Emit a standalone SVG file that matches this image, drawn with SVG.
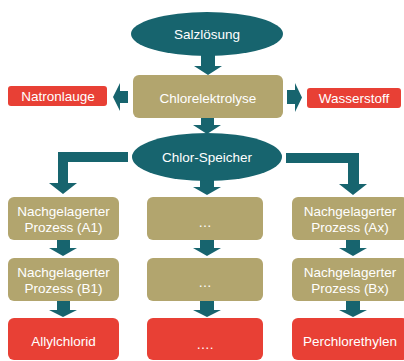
<svg xmlns="http://www.w3.org/2000/svg" width="404" height="361" viewBox="0 0 404 361">
<style>
.teal{fill:#17646E}
.tan{fill:#B2A56E}
.red{fill:#E84035}
.arrow{fill:#17646E}
text{font-family:"Liberation Sans",Arial,sans-serif;font-size:13.5px;fill:#FFFFFF;text-anchor:middle}
</style>
<rect width="404" height="361" fill="#FFFFFF"/>
<g id="connectors">
<polygon class="arrow" points="201,55 215,55 215,66 222,66 208,75 194,66 201,66"/>
<polygon class="arrow" points="201,117 214,117 214,125 221,125 207,134 193,125 201,125"/>
<polygon class="arrow" points="128,91 120,91 120,83 113,97 120,111 120,103 128,103"/>
<polygon class="arrow" points="287,90 295,90 295,83 302,97.5 295,112 295,104 287,104"/>
<polygon class="arrow" points="128,152 58,152 58,183 49,183 63,194 77,183 68,183 68,162 128,162"/>
<polygon class="arrow" points="286,153 359,153 359,184 367,184 353,195 339,184 348,184 348,163 286,163"/>
<polygon class="arrow" points="200,179 214,179 214,187 221,187 207,195 193,187 200,187"/>
<polygon class="arrow" points="57,240 70,240 70,248 77,248 63,256 49,248 57,248"/>
<polygon class="arrow" points="57,301 70,301 70,310 77,310 63,317 49,310 57,310"/>
<polygon class="arrow" points="200,240 214,240 214,248 221,248 207,256 193,248 200,248"/>
<polygon class="arrow" points="200,301 214,301 214,310 221,310 207,317 193,310 200,310"/>
<polygon class="arrow" points="346,240 360,240 360,248 367,248 353,256 339,248 346,248"/>
<polygon class="arrow" points="346,301 360,301 360,310 367,310 353,317 339,310 346,310"/>
</g>
<g id="salzloesung">
<ellipse class="teal" cx="207" cy="34" rx="76" ry="22"/>
<text x="207" y="39">Salzlösung</text>
</g>
<g id="chlorelektrolyse">
<rect class="tan" x="133" y="75" width="150" height="43" rx="6"/>
<text x="208" y="103">Chlorelektrolyse</text>
</g>
<g id="natronlauge">
<rect class="red" x="8" y="86" width="99" height="20" rx="3"/>
<text x="58" y="101">Natronlauge</text>
</g>
<g id="wasserstoff">
<rect class="red" x="307" y="88" width="94" height="20" rx="3"/>
<text x="354" y="103">Wasserstoff</text>
</g>
<g id="chlor-speicher">
<ellipse class="teal" cx="207" cy="157" rx="75" ry="24"/>
<text x="207" y="162">Chlor-Speicher</text>
</g>
<g id="a1">
<rect class="tan" x="8" y="197" width="111" height="43" rx="6"/>
<text x="63.5" y="216">Nachgelagerter</text>
<text x="63.5" y="232">Prozess (A1)</text>
</g>
<g id="m1">
<rect class="tan" x="147" y="197" width="116" height="43" rx="6"/>
<text x="205" y="227">…</text>
</g>
<g id="ax">
<rect class="tan" x="292" y="197" width="116" height="43" rx="6"/>
<text x="350" y="216">Nachgelagerter</text>
<text x="350" y="232">Prozess (Ax)</text>
</g>
<g id="b1">
<rect class="tan" x="8" y="258" width="111" height="43" rx="6"/>
<text x="63.5" y="277">Nachgelagerter</text>
<text x="63.5" y="293">Prozess (B1)</text>
</g>
<g id="m2">
<rect class="tan" x="147" y="258" width="116" height="43" rx="6"/>
<text x="205" y="287">…</text>
</g>
<g id="bx">
<rect class="tan" x="292" y="258" width="116" height="43" rx="6"/>
<text x="350" y="277">Nachgelagerter</text>
<text x="350" y="293">Prozess (Bx)</text>
</g>
<g id="allylchlorid">
<rect class="red" x="8" y="318" width="111" height="42" rx="6"/>
<text x="63.5" y="346">Allylchlorid</text>
</g>
<g id="m3">
<rect class="red" x="147" y="318" width="116" height="42" rx="6"/>
<text x="205" y="349">….</text>
</g>
<g id="perchlorethylen">
<rect class="red" x="292" y="318" width="116" height="42" rx="6"/>
<text x="350" y="346">Perchlorethylen</text>
</g>
</svg>
